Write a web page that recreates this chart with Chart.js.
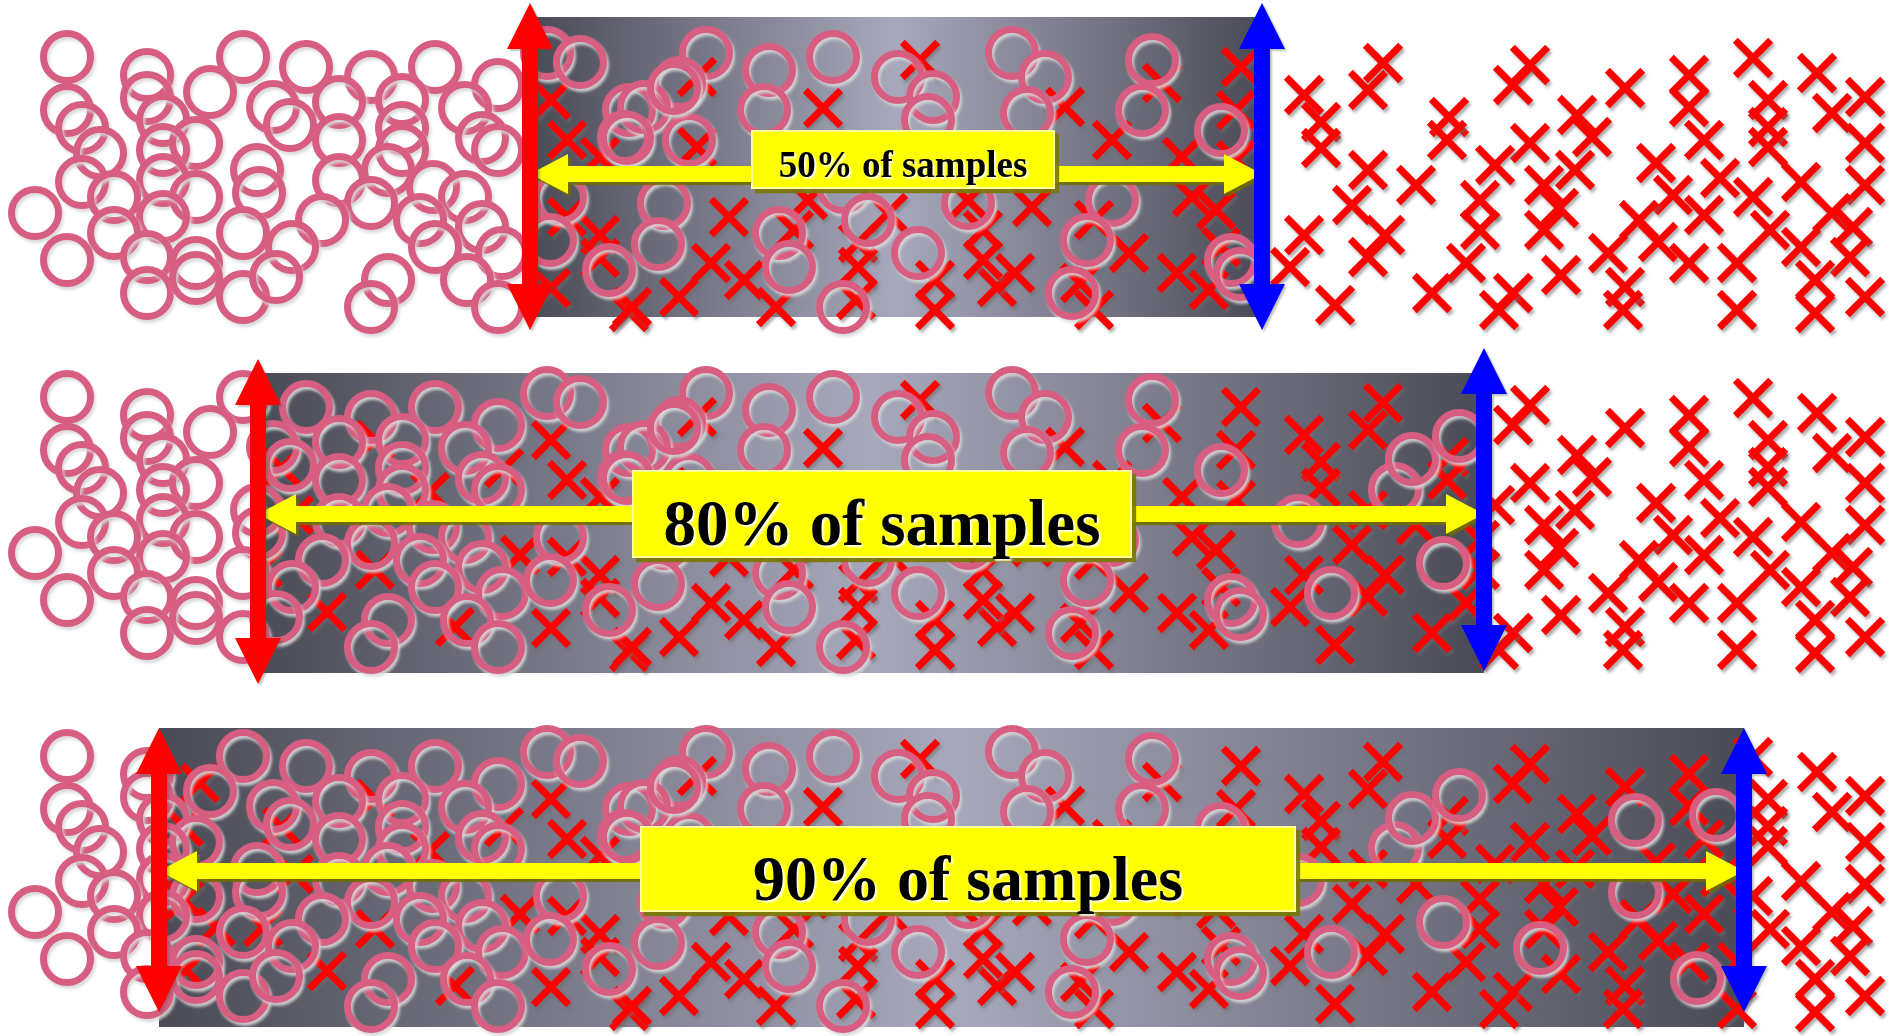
<!DOCTYPE html>
<html><head><meta charset="utf-8">
<script src="https://cdn.jsdelivr.net/npm/chart.js@4.4.1/dist/chart.umd.min.js"></script>
<style>
html,body{margin:0;padding:0;background:#fff;width:1889px;height:1036px;overflow:hidden}
canvas.panel{position:absolute;left:0;display:block}
</style></head><body>
<canvas id="p0" class="panel"></canvas>
<canvas id="p1" class="panel"></canvas>
<canvas id="p2" class="panel"></canvas>
<script>
// ---- data (sample positions, same sample set in every panel) ----
const circleX = [67,147,243,306,371,435,498, 67,147,210,273,339,402,465, 82,163,196,290,402,482, 100,163,339,402,498,
  82,257,163,196,114,259,339,388,371,433,465, 35,163,114,243,322,292,420,482, 67,147,196,435,502,
  147,196,243,276,388,371,467,498, 547,580,629,706,769,833,898,1012,1045,1152,
  679,644,764,933,928,1027,1142,1221, 624,689,560,664,843,968,1112,
  779,868,918,1087,609,789,843,1072,550,1231, 674,627,658,
  1298,1331,1240,1395,1412,1459,1443,1540,1635,1635,1716,1697];
const circleY = [57,75,57,67,77,67,85, 110,98,92,107,102,100,108, 128,120,143,125,128,138, 153,150,140,150,150,
  182,170,180,197,197,193,180,170,203,187,197, 213,217,233,233,220,247,220,227, 260,257,263,247,253,
  293,278,297,277,280,307,280,307, 53,62,110,53,70,57,77,53,77,60,
  83,107,110,97,120,113,110,130, 137,140,197,203,187,203,200,
  233,220,253,240,270,267,307,293,240,260, 88,138,244,
  181,253,274,149,119,96,223,249,121,193,116,279];
const crossX = [200,184,282,375,430,504,294,184,216,263,375,520,186,327,455,
  551,567,567,600,600,551,629,
  600,697,823,920,1162,1065,1112,1241,1236,697,1182,1236,729,794,808,888,858,858,968,983,1032,1094,1192,1216,1129,1221,
  711,744,679,632,776,856,935,935,997,1015,1080,1094,1177,1209,983,
  1383,1304,1368,1321,1321,1530,1513,1449,1447,1577,1625,1689,1689,1753,1768,1768,1817,1832,1865,1865,1592,1530,1704,1768,
  1368,1416,1495,1575,1656,1720,1801,1865,1352,1480,1544,1559,1673,1753,1832,1704,1304,1385,1480,1544,1639,1770,1853,1658,
  1290,1368,1466,1608,1737,1801,1850,1689,1561,1625,1815,1865,1432,1513,1335,1499,1623,1737,1815];
const crossY = [84,128,128,100,152,128,175,201,228,228,230,215,271,272,287,
  100,140,217,235,258,288,312,
  157,77,108,60,83,107,140,67,110,147,157,160,217,230,200,213,243,267,200,230,207,220,197,210,253,247,
  263,280,297,307,307,300,280,310,287,273,283,310,273,290,260,
  63,95,90,122,148,65,85,117,140,115,88,75,107,58,100,127,73,113,97,143,137,143,140,147,
  170,185,165,170,163,178,182,185,205,200,185,208,195,197,213,215,235,235,230,230,220,230,227,242,
  267,257,263,253,263,247,257,263,275,287,280,297,293,293,305,310,310,310,313];
// ---- panels: coverage label and interval bounds (x units) ----
const coverageLabels = ['50% of samples', '80% of samples', '90% of samples'];
const intervalLow  = [530, 258, 159];
const intervalHigh = [1262, 1484, 1744];

// ---- layout / style (not data) ----
const strips = [ {top:0, h:348, yMin:0, yMax:348}, {top:348, h:352, yMin:8, yMax:360}, {top:700, h:336, yMin:1, yMax:337} ];
const deco = [
  {box:[17,317], red:[3,330], blue:[3,330], yel:174, lab:[751,130,1055,189], font:37, base:177},
  {box:[33,333], red:[19,344], blue:[8,331], yel:174, lab:[632,130,1132,218], font:65, base:205},
  {box:[29,328], red:[29,313], blue:[29,313], yel:172, lab:[640,127,1296,213], font:64, base:201}
];

function vArrow(ctx,x,y1,y2,color,shaft,headW,headL){
  ctx.beginPath();
  ctx.moveTo(x,y1); ctx.lineTo(x+headW/2,y1+headL); ctx.lineTo(x+shaft/2,y1+headL);
  ctx.lineTo(x+shaft/2,y2-headL); ctx.lineTo(x+headW/2,y2-headL); ctx.lineTo(x,y2);
  ctx.lineTo(x-headW/2,y2-headL); ctx.lineTo(x-shaft/2,y2-headL); ctx.lineTo(x-shaft/2,y1+headL);
  ctx.lineTo(x-headW/2,y1+headL); ctx.closePath();
  ctx.fillStyle=color; ctx.fill();
}
function hArrow(ctx,y,x1,x2,color,shaft,headH,headL){
  ctx.beginPath();
  ctx.moveTo(x1,y); ctx.lineTo(x1+headL,y-headH/2); ctx.lineTo(x1+headL,y-shaft/2);
  ctx.lineTo(x2-headL,y-shaft/2); ctx.lineTo(x2-headL,y-headH/2); ctx.lineTo(x2,y);
  ctx.lineTo(x2-headL,y+headH/2); ctx.lineTo(x2-headL,y+shaft/2); ctx.lineTo(x1+headL,y+shaft/2);
  ctx.lineTo(x1+headL,y+headH/2); ctx.closePath();
  ctx.fillStyle=color; ctx.fill();
}

function makePanel(i){
  const s = strips[i], d = deco[i];
  const cv = document.getElementById('p'+i);
  cv.width = 1889; cv.height = s.h; cv.style.top = s.top+'px';
  const plugin = {
    id:'panelDeco'+i,
    beforeDatasetsDraw(chart){
      const ctx=chart.ctx, X=chart.scales.x, Y=chart.scales.y;
      const x1=X.getPixelForValue(intervalLow[i]), x2=X.getPixelForValue(intervalHigh[i]);
      const y1=Y.getPixelForValue(d.box[0]), y2=Y.getPixelForValue(d.box[1]);
      const g=ctx.createLinearGradient(x1,0,x2,0);
      g.addColorStop(0,'#4b4b57'); g.addColorStop(0.5,'#a8a8bc'); g.addColorStop(1,'#4b4b57');
      ctx.save(); ctx.fillStyle=g; ctx.fillRect(x1,y1,x2-x1,y2-y1); ctx.restore();
    },
    beforeDatasetDraw(chart,args){
      const ctx=chart.ctx, X=chart.scales.x;
      ctx.save(); ctx.beginPath();
      if(args.index===0){ const xr=X.getPixelForValue(intervalHigh[i]); ctx.rect(-50,-50,xr+50,chart.height+100);
        ctx.shadowColor='rgba(215,215,215,0.9)'; }
      else { const xl=X.getPixelForValue(intervalLow[i]); ctx.rect(xl,-50,chart.width-xl+50,chart.height+100);
        ctx.shadowColor='rgba(110,110,110,0.55)'; }
      ctx.clip();
      ctx.shadowOffsetX=2; ctx.shadowOffsetY=3; ctx.shadowBlur=3;
    },
    afterDatasetDraw(chart){ chart.ctx.restore(); },
    afterDatasetsDraw(chart){
      const ctx=chart.ctx, X=chart.scales.x, Y=chart.scales.y;
      const xl=X.getPixelForValue(intervalLow[i]), xr=X.getPixelForValue(intervalHigh[i]);
      ctx.save();
      const yy=Y.getPixelForValue(d.yel);
      ctx.save(); ctx.shadowColor='rgba(110,110,0,0.9)'; ctx.shadowOffsetX=3; ctx.shadowOffsetY=3; ctx.shadowBlur=1;
      hArrow(ctx,yy,xl,xr,'#ffff00',16,40,38); ctx.restore();
      ctx.save(); ctx.shadowColor='rgba(80,80,80,0.35)'; ctx.shadowOffsetX=2; ctx.shadowOffsetY=2; ctx.shadowBlur=2;
      vArrow(ctx,xl,Y.getPixelForValue(d.red[0]),Y.getPixelForValue(d.red[1]),'#ff0000',16,46,46);
      vArrow(ctx,xr,Y.getPixelForValue(d.blue[0]),Y.getPixelForValue(d.blue[1]),'#0000ff',16,46,46);
      ctx.restore();
      const lx1=X.getPixelForValue(d.lab[0]), ly1=Y.getPixelForValue(d.lab[1]);
      const lx2=X.getPixelForValue(d.lab[2]), ly2=Y.getPixelForValue(d.lab[3]);
      ctx.save(); ctx.shadowColor='rgba(120,120,0,0.9)'; ctx.shadowOffsetX=4; ctx.shadowOffsetY=4; ctx.shadowBlur=1;
      ctx.fillStyle='#ffff00'; ctx.fillRect(lx1,ly1,lx2-lx1,ly2-ly1); ctx.restore();
      ctx.strokeStyle='rgba(255,255,170,0.9)'; ctx.lineWidth=2; ctx.strokeRect(lx1+1,ly1+1,lx2-lx1-2,ly2-ly1-2);
      ctx.save();
      ctx.font='bold '+d.font+'px "Liberation Serif","Times New Roman",serif';
      ctx.textAlign='center'; ctx.textBaseline='alphabetic';
      ctx.shadowColor='rgba(255,255,255,0.95)'; ctx.shadowOffsetX=2; ctx.shadowOffsetY=2; ctx.shadowBlur=2;
      ctx.fillStyle='#000'; ctx.fillText(coverageLabels[i],(lx1+lx2)/2,Y.getPixelForValue(d.base));
      ctx.restore();
      ctx.restore();
    }
  };
  return new Chart(cv,{
    type:'scatter',
    data:{datasets:[
      {label:'circles', data:circleX.map((x,k)=>({x:x,y:circleY[k]})), pointStyle:'circle', pointRadius:23.5,
        pointBorderWidth:7, pointBorderColor:'#d75e80', pointBackgroundColor:'rgba(0,0,0,0)', clip:false},
      {label:'crosses', data:crossX.map((x,k)=>({x:x,y:crossY[k]})), pointStyle:'crossRot', pointRadius:25,
        pointBorderWidth:7, pointBorderColor:'#ff0000', pointBackgroundColor:'#ff0000', clip:false}
    ]},
    options:{
      responsive:false, animation:false, devicePixelRatio:1, events:[],
      layout:{padding:0, autoPadding:false},
      plugins:{legend:{display:false}, tooltip:{enabled:false}},
      scales:{
        x:{type:'linear', min:0, max:1889, display:false},
        y:{type:'linear', min:s.yMin, max:s.yMax, reverse:true, display:false}
      }
    },
    plugins:[plugin]
  });
}
[0,1,2].forEach(makePanel);
</script>
</body></html>
